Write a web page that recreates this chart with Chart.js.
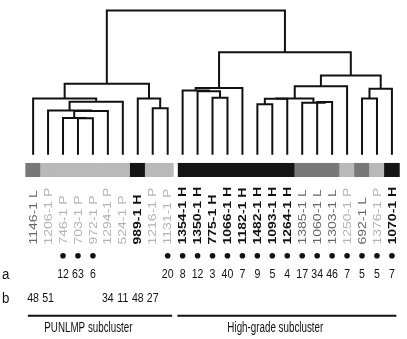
<!DOCTYPE html>
<html>
<head>
<meta charset="utf-8">
<script src="https://cdn.jsdelivr.net/npm/chart.js@4/dist/chart.umd.min.js"></script>
<style>
  html, body { margin: 0; padding: 0; background: #fff; }
  .chart-container { position: relative; width: 407px; height: 339px; }
</style>
</head>
<body>
<div class="chart-container">
  <canvas id="dendrogramChart"></canvas>
</div>
<script>
// leaf order as it appears under the tree
var leafIds = ['1146-1', '1206-1', '746-1', '703-1', '972-1', '1294-1', '524-1', '989-1', '1216-1', '1131-1',
  '1354-1', '1350-1', '775-1', '1066-1', '1182-1', '1482-1', '1093-1', '1264-1',
  '1385-1', '1060-1', '1303-1', '1250-1', '692-1', '1376-1', '1070-1'];
var grades = ['L', 'P', 'P', 'P', 'P', 'P', 'P', 'H', 'P', 'P',
  'H', 'H', 'H', 'H', 'H', 'H', 'H', 'H',
  'L', 'L', 'L', 'P', 'L', 'P', 'H'];
var valuesA = [null, null, 12, 63, 6, null, null, null, null, 20,
  8, 12, 3, 40, 7, 9, 5, 4, 17, 34, 46, 7, 5, 5, 7];
var valuesB = [48, 51, null, null, null, 34, 11, 48, 27, null,
  null, null, null, null, null, null, null, null, null, null, null, null, null, null, null];

// [child, child, height]; children < 25 are leaves, 25+ are earlier merges
var merges = [
  [3, 4, 3.72], [2, 25, 3.76], [26, 5, 4.48], [1, 27, 4.53], [28, 6, 5.43], [0, 29, 5.76],
  [8, 9, 4.76], [7, 31, 5.76], [30, 32, 7.26],
  [12, 13, 5.83], [11, 34, 6.5], [10, 35, 6.56], [36, 14, 6.83],
  [15, 16, 5.16], [38, 17, 5.72], [19, 20, 5.4], [18, 40, 5.32], [39, 41, 5.76], [42, 21, 7.0],
  [22, 23, 5.76], [44, 24, 6.76], [43, 45, 8.1], [37, 46, 10.5], [33, 47, 14.76]
];

var subclusters = [
  { name: 'PUNLMP subcluster', first: 0, last: 9 },
  { name: 'High-grade subcluster', first: 10, last: 24 }
];

var gradeFill = { H: '#151515', L: '#787878', P: '#b9b9b9' };
var gradeText = { H: '#111111', L: '#666666', P: '#b3b3b3' };

var nLeaf = leafIds.length;
var stripY = -1.57, labelY = -9.2, dotY = -10.35, rowAY = -12.3, rowBY = -14.75, lineY = -16.5, nameY = -17.75;

// node positions: leaves at their index, merges centred over their children
var nodeX = [], nodeH = [];
for (var i = 0; i < nLeaf; i++) { nodeX.push(i); nodeH.push(0); }
var datasets = [];
merges.forEach(function (m) {
  var a = m[0], b = m[1], h = m[2];
  datasets.push({
    type: 'line',
    data: [{ x: nodeX[a], y: nodeH[a] }, { x: nodeX[a], y: h }, { x: nodeX[b], y: h }, { x: nodeX[b], y: nodeH[b] }],
    borderColor: '#111', borderWidth: 2, pointRadius: 0, fill: false, tension: 0,
    borderJoinStyle: 'miter', borderCapStyle: 'butt'
  });
  nodeX.push((nodeX[a] + nodeX[b]) / 2);
  nodeH.push(h);
});

// grade strip under the leaves, with a small gap between the two subclusters
datasets.push({
  type: 'bar',
  indexAxis: 'y',
  data: grades.map(function (g, i) {
    var lo = i - 0.5, hi = i + 0.5;
    subclusters.forEach(function (s) {
      if (i === s.first && i > 0) lo += 0.2;
      if (i === s.last && i < nLeaf - 1) hi -= 0.12;
    });
    return { x: [lo, hi], y: stripY };
  }),
  backgroundColor: grades.map(function (g) { return gradeFill[g]; }),
  barThickness: 13.4,
  borderWidth: 0
});

datasets.push({
  type: 'scatter',
  data: valuesA.map(function (v, i) { return v === null ? null : { x: i, y: dotY }; }).filter(Boolean),
  pointRadius: 2.8, backgroundColor: '#111', borderWidth: 0
});

subclusters.forEach(function (s) {
  datasets.push({
    type: 'line',
    data: [{ x: s.first - 0.35, y: lineY }, { x: s.last + 0.3, y: lineY }],
    borderColor: '#111', borderWidth: 2, pointRadius: 0, fill: false
  });
});

// the source figure is a bit narrower than its type, so text gets squeezed sideways
function squeezedText(ctx, text, x, y, align, squeeze) {
  ctx.save();
  ctx.translate(x, y);
  ctx.scale(squeeze, 1);
  ctx.textAlign = align;
  ctx.fillText(text, 0, 0);
  ctx.restore();
}

var textPlugin = {
  id: 'dendroText',
  afterDatasetsDraw: function (chart) {
    var ctx = chart.ctx, xs = chart.scales.x, ys = chart.scales.y;
    ctx.save();
    // rotated sample labels, reading upwards from a common baseline
    leafIds.forEach(function (id, i) {
      var g = grades[i];
      ctx.save();
      ctx.translate(xs.getPixelForValue(i) + 0.5, ys.getPixelForValue(labelY));
      ctx.rotate(-Math.PI / 2);
      ctx.scale(1, 0.8);
      ctx.font = (g === 'H' ? 'bold ' : '') + '14px "Liberation Sans", Arial, sans-serif';
      ctx.fillStyle = gradeText[g];
      ctx.textAlign = 'left';
      ctx.textBaseline = 'middle';
      ctx.fillText(id + ' ' + g, 0, 0);
      ctx.restore();
    });
    // value rows
    ctx.fillStyle = '#111';
    ctx.textBaseline = 'middle';
    ctx.font = '12px "Liberation Sans", Arial, sans-serif';
    valuesA.forEach(function (v, i) {
      if (v !== null) squeezedText(ctx, String(v), xs.getPixelForValue(i), ys.getPixelForValue(rowAY), 'center', 0.88);
    });
    valuesB.forEach(function (v, i) {
      if (v !== null) squeezedText(ctx, String(v), xs.getPixelForValue(i), ys.getPixelForValue(rowBY), 'center', 0.88);
    });
    ctx.font = '14px "Liberation Sans", Arial, sans-serif';
    squeezedText(ctx, 'a', 2, ys.getPixelForValue(rowAY), 'left', 0.95);
    squeezedText(ctx, 'b', 2, ys.getPixelForValue(rowBY), 'left', 0.95);
    // subcluster names
    subclusters.forEach(function (s) {
      squeezedText(ctx, s.name, xs.getPixelForValue((s.first + s.last) / 2 - 0.8), ys.getPixelForValue(nameY), 'center', 0.7);
    });
    ctx.restore();
  }
};

var chart = new Chart('dendrogramChart', {
  type: 'scatter',
  data: { datasets: datasets },
  options: {
    animation: false,
    responsive: true,
    maintainAspectRatio: false,
    events: [],
    layout: { padding: 0 },
    plugins: { legend: { display: false }, tooltip: { enabled: false } },
    scales: {
      x: { type: 'linear', min: -1.9475, max: 24.741, offset: false, display: false },
      y: { type: 'linear', min: -18.47, max: 15.43, offset: false, display: false }
    }
  },
  plugins: [textPlugin]
});
</script>
</body>
</html>
